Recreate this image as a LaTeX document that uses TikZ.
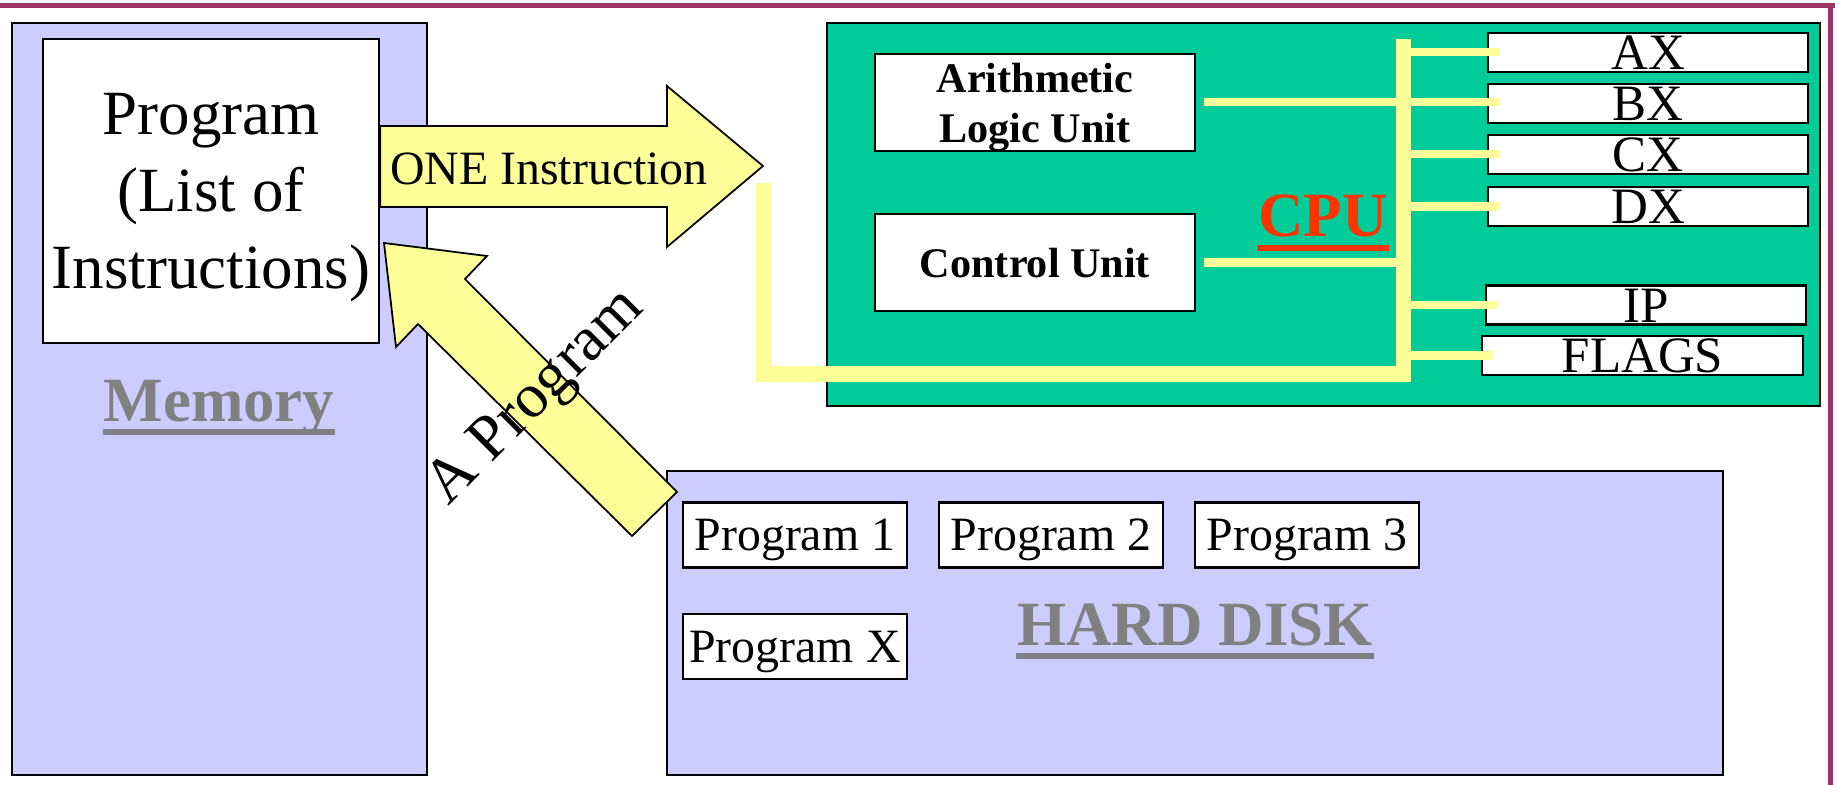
\documentclass[tikz,border=0pt]{standalone}
\usepackage{fontspec}
\setmainfont{Liberation Serif}
\usetikzlibrary{calc}

\definecolor{lavender}{RGB}{204,204,255}
\definecolor{cpugreen}{RGB}{0,204,153}
\definecolor{paleyellow}{RGB}{255,255,153}
\definecolor{cpured}{RGB}{255,51,0}
\definecolor{framepurple}{RGB}{158,51,102}
\definecolor{labelgray}{RGB}{128,128,128}

\newcommand\fsbig{\fontsize{17.9}{21.8}\selectfont}
\newcommand\fsmid{\fontsize{13.6}{16}\selectfont}
\newcommand\fsreg{\fontsize{14.5}{17}\selectfont}
\newcommand\fsunit{\fontsize{12}{14.2}\selectfont}

\begin{document}
\begin{tikzpicture}[x=0.01cm, y=-0.01cm, line width=0.6pt,
    area/.style={draw, fill=lavender, inner sep=0pt},
    box/.style={draw, fill=white, inner sep=0pt, text depth=0pt},
    unit/.style={box, minimum width=3.2cm, minimum height=0.97cm, font=\fsunit\bfseries, align=center},
    reg/.style={box, minimum width=3.2cm, minimum height=0.39cm, text height=0.34cm, font=\fsreg},
    prog/.style={box, minimum width=2.24cm, minimum height=0.65cm, font=\fsmid},
    title/.style={inner sep=0pt, anchor=base, font=\fsbig\bfseries},
    uline/.style={draw=#1, line width=0.06cm},
    bus/.style={draw=paleyellow, line width=0.15cm},
    branch/.style={draw=paleyellow, line width=0.08cm},
    blockarrow/.style={draw, fill=paleyellow, line width=0.5pt, line join=miter}]

  \useasboundingbox (0,0) rectangle (1835,785);
  \draw[framepurple, line width=0.05cm] (0,6) -- (1835,6);
  \draw[framepurple, line width=0.05cm] (1830,4) -- (1830,785);

  \node[area, minimum width=4.15cm, minimum height=7.52cm] (memory) at (219.5,399) {};
  \node[box, minimum width=3.36cm, minimum height=3.04cm, font=\fsbig, align=center] (prog) at (211,191)
    {Program\\(List of\\Instructions)};
  \node[title, text=labelgray] (memlbl) at (219,422) {Memory};
  \draw[uline=labelgray] ([yshift=-0.1cm]memlbl.base west) -- ([yshift=-0.1cm]memlbl.base east);

  \node[draw, fill=cpugreen, minimum width=9.93cm, minimum height=3.83cm] (cpu) at (1323.5,214.5) {};
  \node[unit] (alu) at (1035,102.5) {Arithmetic\\Logic Unit};
  \node[unit] (cu) at (1035,262.5) {Control Unit};
  \node[title, text=cpured] (cpulbl) at (1323,237) {CPU};
  \draw[uline=cpured] ([yshift=-0.11cm]cpulbl.base west) -- ([yshift=-0.11cm]cpulbl.base east);

  \node[reg] (ax) at (1648,52.5) {AX};
  \node[reg] (bx) at (1648,103.5) {BX};
  \node[reg] (cx) at (1648,154.5) {CX};
  \node[reg] (dx) at (1648,206.5) {DX};
  \node[reg] (ip) at (1646,305) {IP};
  \node[reg] (flags) at (1642.5,355.5) {FLAGS};

  \coordinate (bus drop) at (763,183);
  \coordinate (bus corner) at (1403,374);
  \coordinate (bus top) at (1403,39);
  \draw[bus] (bus drop) |- (bus corner) -- (bus top);
  \foreach \r in {ax, cx, dx, ip, flags}
    \draw[branch] (bus top |- \r.west) -- ([xshift=0.12cm]\r.west);
  \draw[branch] ([xshift=0.08cm]alu.east) -- ($(bx.west |- alu.east)+(12,0)$);
  \draw[branch] ([xshift=0.08cm]cu.east) -- (bus top |- cu.east);

  \node[area, minimum width=10.56cm, minimum height=3.04cm] (disk) at (1195,623) {};
  \node[prog] (p1) at (795,535) {Program 1};
  \node[prog] (p2) at (1051,535) {Program 2};
  \node[prog] (p3) at (1307,535) {Program 3};
  \node[prog] (px) at (795,646.5) {Program X};
  \node[title, text=labelgray] (disklbl) at (1195,646) {HARD DISK};
  \draw[uline=labelgray] ([yshift=-0.1cm]disklbl.base west) -- ([yshift=-0.1cm]disklbl.base east);

  \draw[blockarrow] (prog.east |- 0,126) -- (667,126) -- (667,86) -- (763,166)
    -- (667,247) -- (667,207) -- (prog.east |- 0,207) -- cycle;
  \node[font=\fsmid] (fetch) at (549,169) {ONE Instruction};

  \draw[blockarrow] (632,536) -- (677,492) -- (465,279) -- (487,256) -- (384,243)
    -- (396,347) -- (418,324) -- cycle;
  \node[font=\fsbig, inner sep=0pt, anchor=base, rotate=45] (load) at (547,408) {A Program};

\end{tikzpicture}
\end{document}
